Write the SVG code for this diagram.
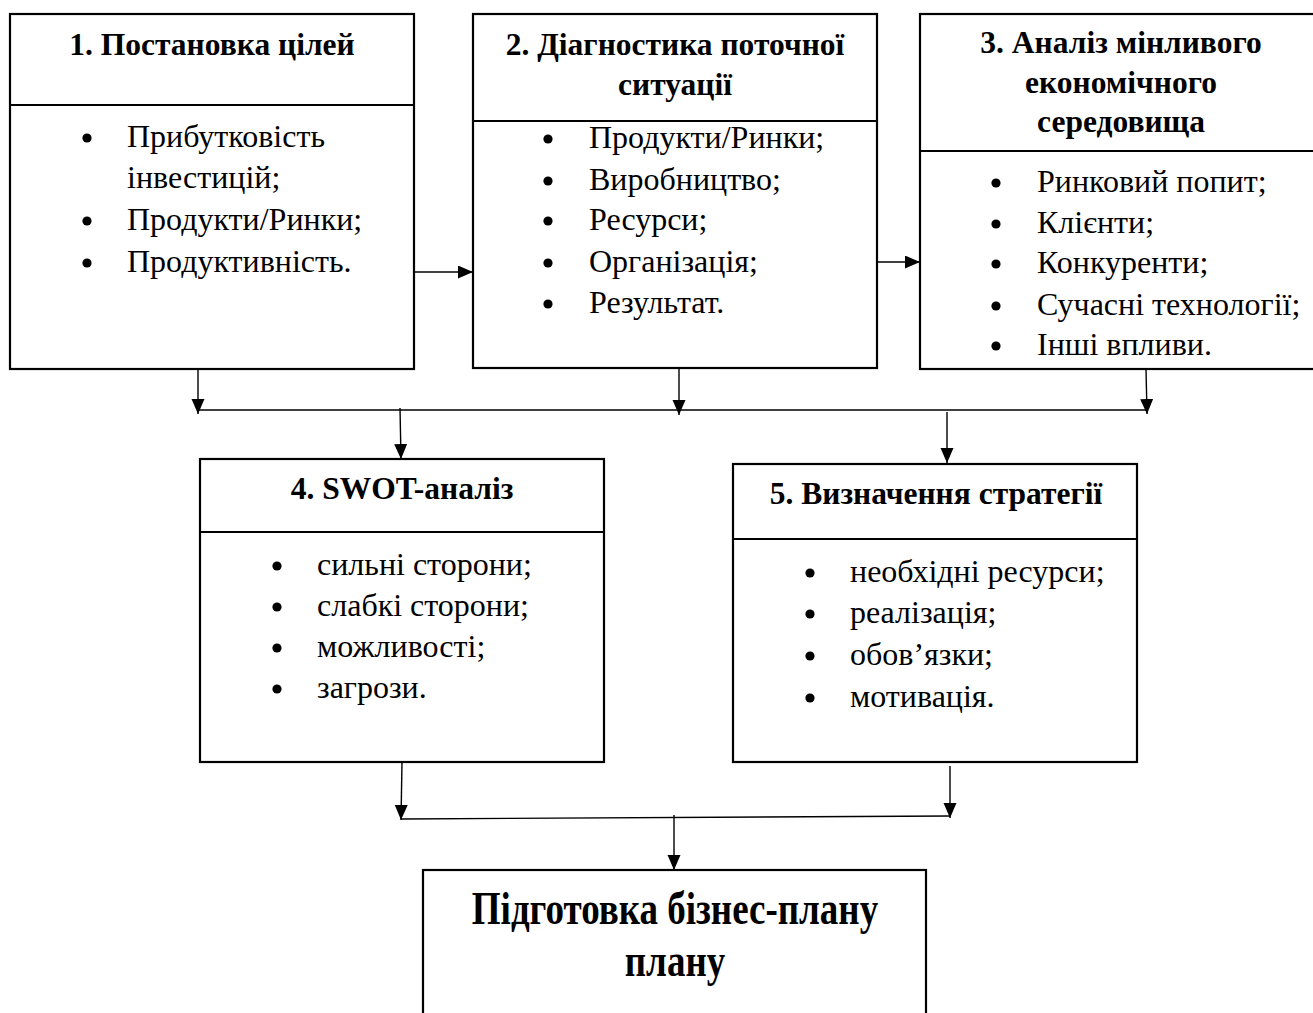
<svg xmlns="http://www.w3.org/2000/svg" width="1313" height="1013" viewBox="0 0 1313 1013">
<style>
.box{fill:#fff;stroke:#000;stroke-width:2.2}
.div{stroke:#000;stroke-width:2.2}
.h{font-family:"Liberation Serif",serif;font-weight:bold;font-size:31.5px;text-anchor:middle;fill:#000}
.t{font-family:"Liberation Serif",serif;font-size:32px;fill:#000}
.big{font-family:"Liberation Serif",serif;font-weight:bold;font-size:37px;text-anchor:middle;fill:#000}
.c{stroke:#000;stroke-width:1.4;fill:none}
</style>
<defs>
<marker id="ah" markerUnits="userSpaceOnUse" markerWidth="15" markerHeight="16" refX="15" refY="6.5" orient="auto">
<path d="M0,0 L15,6.5 L0,13 z" fill="#000"/>
</marker>
<circle id="b" r="4.6" fill="#000"/>
</defs>
<g id="node1">
<rect class="box" x="10" y="14" width="404" height="355"/>
<line class="div" x1="10" y1="105" x2="414" y2="105"/>
<text class="h" x="212" y="55">1. Постановка цілей</text>
<use href="#b" x="87" y="138"/><text class="t" x="127" y="147">Прибутковість</text>
<text class="t" x="127" y="188">інвестицій;</text>
<use href="#b" x="87" y="221"/><text class="t" x="127" y="230">Продукти/Ринки;</text>
<use href="#b" x="87" y="263"/><text class="t" x="127" y="272">Продуктивність.</text>
</g>
<g id="node2">
<rect class="box" x="473" y="14" width="404" height="354"/>
<line class="div" x1="473" y1="121" x2="877" y2="121"/>
<text class="h" x="675" y="55">2. Діагностика поточної</text>
<text class="h" x="675" y="95">ситуації</text>
<use href="#b" x="548" y="139"/><text class="t" x="589" y="148">Продукти/Ринки;</text>
<use href="#b" x="548" y="181"/><text class="t" x="589" y="190">Виробництво;</text>
<use href="#b" x="548" y="221"/><text class="t" x="589" y="230">Ресурси;</text>
<use href="#b" x="548" y="263"/><text class="t" x="589" y="272">Організація;</text>
<use href="#b" x="548" y="304"/><text class="t" x="589" y="313">Результат.</text>
</g>
<g id="node3">
<rect class="box" x="920" y="14" width="400" height="355"/>
<line class="div" x1="920" y1="151" x2="1320" y2="151"/>
<text class="h" x="1121" y="53">3. Аналіз мінливого</text>
<text class="h" x="1121" y="93">економічного</text>
<text class="h" x="1121" y="132">середовища</text>
<use href="#b" x="996" y="183"/><text class="t" x="1037" y="192">Ринковий попит;</text>
<use href="#b" x="996" y="224"/><text class="t" x="1037" y="233">Клієнти;</text>
<use href="#b" x="996" y="264"/><text class="t" x="1037" y="273">Конкуренти;</text>
<use href="#b" x="996" y="306"/><text class="t" x="1037" y="315">Сучасні технології;</text>
<use href="#b" x="996" y="346"/><text class="t" x="1037" y="355">Інші впливи.</text>
</g>
<g id="node4">
<rect class="box" x="200" y="459" width="404" height="303"/>
<line class="div" x1="200" y1="532" x2="604" y2="532"/>
<text class="h" x="402" y="499">4. SWOT-аналіз</text>
<use href="#b" x="277" y="566"/><text class="t" x="317" y="575">сильні сторони;</text>
<use href="#b" x="277" y="607"/><text class="t" x="317" y="616">слабкі сторони;</text>
<use href="#b" x="277" y="648"/><text class="t" x="317" y="657">можливості;</text>
<use href="#b" x="277" y="689"/><text class="t" x="317" y="698">загрози.</text>
</g>
<g id="node5">
<rect class="box" x="733" y="464" width="404" height="298"/>
<line class="div" x1="733" y1="539" x2="1137" y2="539"/>
<text class="h" x="936" y="504">5. Визначення стратегії</text>
<use href="#b" x="810" y="573"/><text class="t" x="850" y="582">необхідні ресурси;</text>
<use href="#b" x="810" y="614"/><text class="t" x="850" y="623">реалізація;</text>
<use href="#b" x="810" y="656"/><text class="t" x="850" y="665">обов’язки;</text>
<use href="#b" x="810" y="698"/><text class="t" x="850" y="707">мотивація.</text>
</g>
<g id="node6">
<rect class="box" x="423" y="870" width="503" height="160"/>
<text class="big" transform="translate(675,924) scale(1,1.25)">Підготовка бізнес-плану</text>
<text class="big" transform="translate(675,976) scale(1,1.25)">плану</text>
</g>
<g id="connectors">
<line class="c" x1="414" y1="272" x2="473" y2="272" marker-end="url(#ah)"/>
<line class="c" x1="876" y1="262" x2="920" y2="262" marker-end="url(#ah)"/>
<line class="c" x1="198" y1="370" x2="198" y2="414" marker-end="url(#ah)"/>
<line class="c" x1="679" y1="368" x2="679" y2="415" marker-end="url(#ah)"/>
<line class="c" x1="1146" y1="369" x2="1147" y2="414" marker-end="url(#ah)"/>
<line class="c" x1="198" y1="410" x2="1147" y2="410"/>
<line class="c" x1="400" y1="408" x2="401" y2="459" marker-end="url(#ah)"/>
<line class="c" x1="947" y1="412" x2="947" y2="463" marker-end="url(#ah)"/>
<line class="c" x1="402" y1="762" x2="401" y2="820" marker-end="url(#ah)"/>
<line class="c" x1="950" y1="766" x2="950" y2="818" marker-end="url(#ah)"/>
<line class="c" x1="401" y1="819" x2="950" y2="816"/>
<line class="c" x1="674" y1="815" x2="674" y2="870" marker-end="url(#ah)"/>
</g>
</svg>
